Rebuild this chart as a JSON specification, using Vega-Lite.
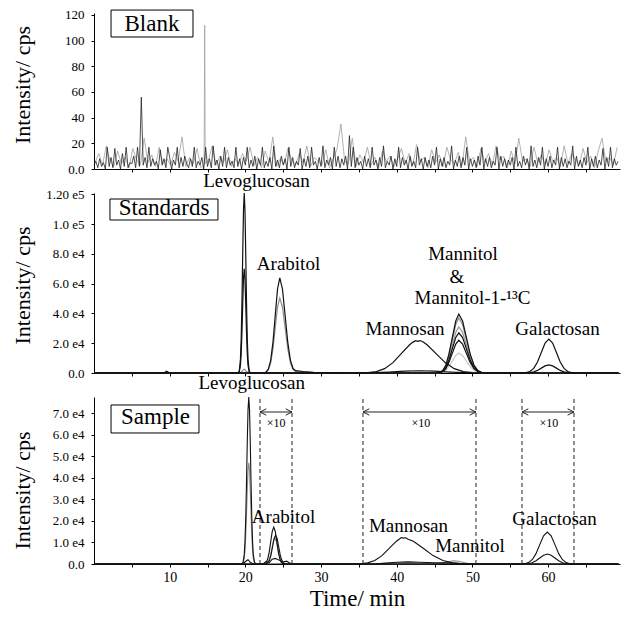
{
"$schema":"https://vega.github.io/schema/vega-lite/v6.json",
"background":"white",
"padding":{"left":10,"top":8,"right":5,"bottom":5},
"spacing":24,
"bounds":"flush",
"resolve":{"scale":{"color":"independent"}},
"config":{"view":{"stroke":null},"font":"Liberation Serif",
"axis":{"grid":false,"domainColor":"#000","tickColor":"#000","labelColor":"#000","titleColor":"#000","labelFont":"Liberation Serif","titleFont":"Liberation Serif","titleFontWeight":"normal","tickSize":3,"domainWidth":1,"tickWidth":1,"labelOverlap":false},
"text":{"font":"Liberation Serif","color":"#000"}},
"datasets":{
"blank":[
{"s":"bg","t":0.125,"v":5},{"s":"bg","t":0.625,"v":12},{"s":"bg","t":1.125,"v":3},{"s":"bg","t":1.625,"v":18},{"s":"bg","t":2.125,"v":6},{"s":"bg","t":2.625,"v":2},{"s":"bg","t":3.125,"v":14},{"s":"bg","t":3.625,"v":4},{"s":"bg","t":4.125,"v":9},{"s":"bg","t":4.625,"v":1},{"s":"bg","t":5.125,"v":16},{"s":"bg","t":5.625,"v":7},{"s":"bg","t":6.125,"v":3},{"s":"bg","t":6.625,"v":24},{"s":"bg","t":7.125,"v":5},{"s":"bg","t":7.625,"v":11},{"s":"bg","t":8.125,"v":2},{"s":"bg","t":8.625,"v":17},{"s":"bg","t":9.125,"v":4},{"s":"bg","t":9.625,"v":8},
{"s":"bg","t":10.125,"v":3},{"s":"bg","t":10.625,"v":13},{"s":"bg","t":11.125,"v":6},{"s":"bg","t":11.625,"v":25},{"s":"bg","t":12.125,"v":2},{"s":"bg","t":12.625,"v":9},{"s":"bg","t":13.125,"v":4},{"s":"bg","t":13.625,"v":16},{"s":"bg","t":14.125,"v":1},{"s":"bg","t":14.55,"v":3},{"s":"bg","t":14.625,"v":112},{"s":"bg","t":14.7,"v":4},{"s":"bg","t":15.125,"v":7},{"s":"bg","t":15.625,"v":18},{"s":"bg","t":16.125,"v":3},{"s":"bg","t":16.625,"v":10},{"s":"bg","t":17.125,"v":5},{"s":"bg","t":17.625,"v":15},{"s":"bg","t":18.125,"v":2},{"s":"bg","t":18.625,"v":8},{"s":"bg","t":19.125,"v":4},{"s":"bg","t":19.625,"v":12},
{"s":"bg","t":20.125,"v":6},{"s":"bg","t":20.625,"v":17},{"s":"bg","t":21.125,"v":3},{"s":"bg","t":21.625,"v":9},{"s":"bg","t":22.125,"v":1},{"s":"bg","t":22.625,"v":14},{"s":"bg","t":23.125,"v":5},{"s":"bg","t":23.625,"v":25},{"s":"bg","t":24.125,"v":2},{"s":"bg","t":24.625,"v":8},{"s":"bg","t":25.125,"v":4},{"s":"bg","t":25.625,"v":16},{"s":"bg","t":26.125,"v":7},{"s":"bg","t":26.625,"v":3},{"s":"bg","t":27.125,"v":12},{"s":"bg","t":27.625,"v":5},{"s":"bg","t":28.125,"v":18},{"s":"bg","t":28.625,"v":2},{"s":"bg","t":29.125,"v":9},{"s":"bg","t":29.625,"v":6},
{"s":"bg","t":30.125,"v":3},{"s":"bg","t":30.625,"v":15},{"s":"bg","t":31.125,"v":1},{"s":"bg","t":31.625,"v":8},{"s":"bg","t":32.125,"v":16},{"s":"bg","t":32.625,"v":35},{"s":"bg","t":33.125,"v":6},{"s":"bg","t":33.625,"v":4},{"s":"bg","t":34.125,"v":24},{"s":"bg","t":34.625,"v":2},{"s":"bg","t":35.125,"v":11},{"s":"bg","t":35.625,"v":5},{"s":"bg","t":36.125,"v":17},{"s":"bg","t":36.625,"v":3},{"s":"bg","t":37.125,"v":9},{"s":"bg","t":37.625,"v":1},{"s":"bg","t":38.125,"v":14},{"s":"bg","t":38.625,"v":6},{"s":"bg","t":39.125,"v":10},{"s":"bg","t":39.625,"v":2},
{"s":"bg","t":40.125,"v":8},{"s":"bg","t":40.625,"v":16},{"s":"bg","t":41.125,"v":4},{"s":"bg","t":41.625,"v":12},{"s":"bg","t":42.125,"v":3},{"s":"bg","t":42.625,"v":19},{"s":"bg","t":43.125,"v":6},{"s":"bg","t":43.625,"v":9},{"s":"bg","t":44.125,"v":1},{"s":"bg","t":44.625,"v":15},{"s":"bg","t":45.125,"v":5},{"s":"bg","t":45.625,"v":11},{"s":"bg","t":46.125,"v":2},{"s":"bg","t":46.625,"v":17},{"s":"bg","t":47.125,"v":7},{"s":"bg","t":47.625,"v":4},{"s":"bg","t":48.125,"v":13},{"s":"bg","t":48.625,"v":3},{"s":"bg","t":49.125,"v":25},{"s":"bg","t":49.625,"v":6},
{"s":"bg","t":50.125,"v":9},{"s":"bg","t":50.625,"v":2},{"s":"bg","t":51.125,"v":16},{"s":"bg","t":51.625,"v":5},{"s":"bg","t":52.125,"v":12},{"s":"bg","t":52.625,"v":3},{"s":"bg","t":53.125,"v":18},{"s":"bg","t":53.625,"v":7},{"s":"bg","t":54.125,"v":10},{"s":"bg","t":54.625,"v":1},{"s":"bg","t":55.125,"v":14},{"s":"bg","t":55.625,"v":4},{"s":"bg","t":56.125,"v":24},{"s":"bg","t":56.625,"v":6},{"s":"bg","t":57.125,"v":8},{"s":"bg","t":57.625,"v":2},{"s":"bg","t":58.125,"v":17},{"s":"bg","t":58.625,"v":5},{"s":"bg","t":59.125,"v":11},{"s":"bg","t":59.625,"v":3},
{"s":"bg","t":60.125,"v":15},{"s":"bg","t":60.625,"v":6},{"s":"bg","t":61.125,"v":9},{"s":"bg","t":61.625,"v":2},{"s":"bg","t":62.125,"v":18},{"s":"bg","t":62.625,"v":4},{"s":"bg","t":63.125,"v":12},{"s":"bg","t":63.625,"v":7},{"s":"bg","t":64.125,"v":3},{"s":"bg","t":64.625,"v":16},{"s":"bg","t":65.125,"v":5},{"s":"bg","t":65.625,"v":10},{"s":"bg","t":66.125,"v":1},{"s":"bg","t":66.625,"v":14},{"s":"bg","t":67.125,"v":24},{"s":"bg","t":67.625,"v":6},{"s":"bg","t":68.125,"v":9},{"s":"bg","t":68.625,"v":3},{"s":"bg","t":69.125,"v":17},
{"s":"bb","t":0,"v":3},{"s":"bb","t":0.25,"v":6},{"s":"bb","t":0.5,"v":1},{"s":"bb","t":0.75,"v":8},{"s":"bb","t":1,"v":2},{"s":"bb","t":1.25,"v":5},{"s":"bb","t":1.5,"v":0},{"s":"bb","t":1.75,"v":17},{"s":"bb","t":2,"v":2},{"s":"bb","t":2.25,"v":9},{"s":"bb","t":2.5,"v":1},{"s":"bb","t":2.75,"v":16},{"s":"bb","t":3,"v":3},{"s":"bb","t":3.25,"v":7},{"s":"bb","t":3.5,"v":0},{"s":"bb","t":3.75,"v":12},{"s":"bb","t":4,"v":2},{"s":"bb","t":4.25,"v":17},{"s":"bb","t":4.5,"v":1},{"s":"bb","t":4.75,"v":5},
{"s":"bb","t":5,"v":4},{"s":"bb","t":5.25,"v":10},{"s":"bb","t":5.5,"v":1},{"s":"bb","t":5.75,"v":17},{"s":"bb","t":6,"v":2},{"s":"bb","t":6.25,"v":56},{"s":"bb","t":6.5,"v":3},{"s":"bb","t":6.75,"v":9},{"s":"bb","t":7,"v":1},{"s":"bb","t":7.25,"v":17},{"s":"bb","t":7.5,"v":2},{"s":"bb","t":7.75,"v":8},{"s":"bb","t":8,"v":3},{"s":"bb","t":8.25,"v":6},{"s":"bb","t":8.5,"v":0},{"s":"bb","t":8.75,"v":15},{"s":"bb","t":9,"v":3},{"s":"bb","t":9.25,"v":8},{"s":"bb","t":9.5,"v":1},{"s":"bb","t":9.75,"v":17},
{"s":"bb","t":10,"v":9},{"s":"bb","t":10.25,"v":0},{"s":"bb","t":10.5,"v":7},{"s":"bb","t":10.75,"v":3},{"s":"bb","t":11,"v":17},{"s":"bb","t":11.25,"v":1},{"s":"bb","t":11.5,"v":9},{"s":"bb","t":11.75,"v":2},{"s":"bb","t":12,"v":10},{"s":"bb","t":12.25,"v":4},{"s":"bb","t":12.5,"v":1},{"s":"bb","t":12.75,"v":8},{"s":"bb","t":13,"v":2},{"s":"bb","t":13.25,"v":17},{"s":"bb","t":13.5,"v":1},{"s":"bb","t":13.75,"v":6},{"s":"bb","t":14,"v":3},{"s":"bb","t":14.25,"v":9},{"s":"bb","t":14.5,"v":0},{"s":"bb","t":14.75,"v":17},
{"s":"bb","t":15,"v":2},{"s":"bb","t":15.25,"v":8},{"s":"bb","t":15.5,"v":1},{"s":"bb","t":15.75,"v":18},{"s":"bb","t":16,"v":3},{"s":"bb","t":16.25,"v":7},{"s":"bb","t":16.5,"v":0},{"s":"bb","t":16.75,"v":10},{"s":"bb","t":17,"v":2},{"s":"bb","t":17.25,"v":17},{"s":"bb","t":17.5,"v":1},{"s":"bb","t":17.75,"v":9},{"s":"bb","t":18,"v":3},{"s":"bb","t":18.25,"v":6},{"s":"bb","t":18.5,"v":1},{"s":"bb","t":18.75,"v":17},{"s":"bb","t":19,"v":2},{"s":"bb","t":19.25,"v":8},{"s":"bb","t":19.5,"v":0},{"s":"bb","t":19.75,"v":9},
{"s":"bb","t":20,"v":3},{"s":"bb","t":20.25,"v":17},{"s":"bb","t":20.5,"v":1},{"s":"bb","t":20.75,"v":7},{"s":"bb","t":21,"v":2},{"s":"bb","t":21.25,"v":10},{"s":"bb","t":21.5,"v":0},{"s":"bb","t":21.75,"v":8},{"s":"bb","t":22,"v":3},{"s":"bb","t":22.25,"v":17},{"s":"bb","t":22.5,"v":1},{"s":"bb","t":22.75,"v":6},{"s":"bb","t":23,"v":2},{"s":"bb","t":23.25,"v":9},{"s":"bb","t":23.5,"v":0},{"s":"bb","t":23.75,"v":18},{"s":"bb","t":24,"v":2},{"s":"bb","t":24.25,"v":7},{"s":"bb","t":24.5,"v":1},{"s":"bb","t":24.75,"v":10},
{"s":"bb","t":25,"v":3},{"s":"bb","t":25.25,"v":8},{"s":"bb","t":25.5,"v":0},{"s":"bb","t":25.75,"v":17},{"s":"bb","t":26,"v":2},{"s":"bb","t":26.25,"v":9},{"s":"bb","t":26.5,"v":1},{"s":"bb","t":26.75,"v":6},{"s":"bb","t":27,"v":3},{"s":"bb","t":27.25,"v":16},{"s":"bb","t":27.5,"v":0},{"s":"bb","t":27.75,"v":8},{"s":"bb","t":28,"v":2},{"s":"bb","t":28.25,"v":10},{"s":"bb","t":28.5,"v":1},{"s":"bb","t":28.75,"v":17},{"s":"bb","t":29,"v":3},{"s":"bb","t":29.25,"v":6},{"s":"bb","t":29.5,"v":0},{"s":"bb","t":29.75,"v":9},
{"s":"bb","t":30,"v":2},{"s":"bb","t":30.25,"v":18},{"s":"bb","t":30.5,"v":1},{"s":"bb","t":30.75,"v":7},{"s":"bb","t":31,"v":3},{"s":"bb","t":31.25,"v":9},{"s":"bb","t":31.5,"v":0},{"s":"bb","t":31.75,"v":17},{"s":"bb","t":32,"v":2},{"s":"bb","t":32.25,"v":10},{"s":"bb","t":32.5,"v":1},{"s":"bb","t":32.75,"v":8},{"s":"bb","t":33,"v":3},{"s":"bb","t":33.25,"v":10},{"s":"bb","t":33.5,"v":0},{"s":"bb","t":33.75,"v":26},{"s":"bb","t":34,"v":2},{"s":"bb","t":34.25,"v":17},{"s":"bb","t":34.5,"v":1},{"s":"bb","t":34.75,"v":9},
{"s":"bb","t":35,"v":3},{"s":"bb","t":35.25,"v":6},{"s":"bb","t":35.5,"v":0},{"s":"bb","t":35.75,"v":10},{"s":"bb","t":36,"v":2},{"s":"bb","t":36.25,"v":8},{"s":"bb","t":36.5,"v":1},{"s":"bb","t":36.75,"v":17},{"s":"bb","t":37,"v":3},{"s":"bb","t":37.25,"v":7},{"s":"bb","t":37.5,"v":0},{"s":"bb","t":37.75,"v":9},{"s":"bb","t":38,"v":2},{"s":"bb","t":38.25,"v":18},{"s":"bb","t":38.5,"v":1},{"s":"bb","t":38.75,"v":6},{"s":"bb","t":39,"v":3},{"s":"bb","t":39.25,"v":10},{"s":"bb","t":39.5,"v":0},{"s":"bb","t":39.75,"v":8},
{"s":"bb","t":40,"v":2},{"s":"bb","t":40.25,"v":17},{"s":"bb","t":40.5,"v":1},{"s":"bb","t":40.75,"v":9},{"s":"bb","t":41,"v":3},{"s":"bb","t":41.25,"v":7},{"s":"bb","t":41.5,"v":0},{"s":"bb","t":41.75,"v":10},{"s":"bb","t":42,"v":2},{"s":"bb","t":42.25,"v":6},{"s":"bb","t":42.5,"v":1},{"s":"bb","t":42.75,"v":17},{"s":"bb","t":43,"v":3},{"s":"bb","t":43.25,"v":8},{"s":"bb","t":43.5,"v":0},{"s":"bb","t":43.75,"v":9},{"s":"bb","t":44,"v":2},{"s":"bb","t":44.25,"v":7},{"s":"bb","t":44.5,"v":1},{"s":"bb","t":44.75,"v":10},
{"s":"bb","t":45,"v":3},{"s":"bb","t":45.25,"v":17},{"s":"bb","t":45.5,"v":0},{"s":"bb","t":45.75,"v":8},{"s":"bb","t":46,"v":2},{"s":"bb","t":46.25,"v":9},{"s":"bb","t":46.5,"v":1},{"s":"bb","t":46.75,"v":6},{"s":"bb","t":47,"v":3},{"s":"bb","t":47.25,"v":18},{"s":"bb","t":47.5,"v":0},{"s":"bb","t":47.75,"v":7},{"s":"bb","t":48,"v":2},{"s":"bb","t":48.25,"v":10},{"s":"bb","t":48.5,"v":1},{"s":"bb","t":48.75,"v":9},{"s":"bb","t":49,"v":3},{"s":"bb","t":49.25,"v":17},{"s":"bb","t":49.5,"v":0},{"s":"bb","t":49.75,"v":8},
{"s":"bb","t":50,"v":2},{"s":"bb","t":50.25,"v":7},{"s":"bb","t":50.5,"v":1},{"s":"bb","t":50.75,"v":10},{"s":"bb","t":51,"v":3},{"s":"bb","t":51.25,"v":17},{"s":"bb","t":51.5,"v":0},{"s":"bb","t":51.75,"v":8},{"s":"bb","t":52,"v":2},{"s":"bb","t":52.25,"v":9},{"s":"bb","t":52.5,"v":1},{"s":"bb","t":52.75,"v":6},{"s":"bb","t":53,"v":3},{"s":"bb","t":53.25,"v":17},{"s":"bb","t":53.5,"v":0},{"s":"bb","t":53.75,"v":10},{"s":"bb","t":54,"v":2},{"s":"bb","t":54.25,"v":8},{"s":"bb","t":54.5,"v":1},{"s":"bb","t":54.75,"v":7},
{"s":"bb","t":55,"v":3},{"s":"bb","t":55.25,"v":9},{"s":"bb","t":55.5,"v":0},{"s":"bb","t":55.75,"v":17},{"s":"bb","t":56,"v":2},{"s":"bb","t":56.25,"v":6},{"s":"bb","t":56.5,"v":1},{"s":"bb","t":56.75,"v":10},{"s":"bb","t":57,"v":3},{"s":"bb","t":57.25,"v":8},{"s":"bb","t":57.5,"v":0},{"s":"bb","t":57.75,"v":18},{"s":"bb","t":58,"v":2},{"s":"bb","t":58.25,"v":7},{"s":"bb","t":58.5,"v":1},{"s":"bb","t":58.75,"v":9},{"s":"bb","t":59,"v":3},{"s":"bb","t":59.25,"v":17},{"s":"bb","t":59.5,"v":0},{"s":"bb","t":59.75,"v":8},
{"s":"bb","t":60,"v":2},{"s":"bb","t":60.25,"v":10},{"s":"bb","t":60.5,"v":1},{"s":"bb","t":60.75,"v":7},{"s":"bb","t":61,"v":3},{"s":"bb","t":61.25,"v":17},{"s":"bb","t":61.5,"v":0},{"s":"bb","t":61.75,"v":9},{"s":"bb","t":62,"v":2},{"s":"bb","t":62.25,"v":8},{"s":"bb","t":62.5,"v":1},{"s":"bb","t":62.75,"v":6},{"s":"bb","t":63,"v":3},{"s":"bb","t":63.25,"v":18},{"s":"bb","t":63.5,"v":0},{"s":"bb","t":63.75,"v":10},{"s":"bb","t":64,"v":2},{"s":"bb","t":64.25,"v":7},{"s":"bb","t":64.5,"v":1},{"s":"bb","t":64.75,"v":9},
{"s":"bb","t":65,"v":3},{"s":"bb","t":65.25,"v":17},{"s":"bb","t":65.5,"v":0},{"s":"bb","t":65.75,"v":8},{"s":"bb","t":66,"v":2},{"s":"bb","t":66.25,"v":10},{"s":"bb","t":66.5,"v":1},{"s":"bb","t":66.75,"v":7},{"s":"bb","t":67,"v":3},{"s":"bb","t":67.25,"v":16},{"s":"bb","t":67.5,"v":0},{"s":"bb","t":67.75,"v":9},{"s":"bb","t":68,"v":2},{"s":"bb","t":68.25,"v":17},{"s":"bb","t":68.5,"v":1},{"s":"bb","t":68.75,"v":8},{"s":"bb","t":69,"v":3},{"s":"bb","t":69.25,"v":6}
],
"std":[
{"s":"sg3","t":0,"v":0},{"s":"sg3","t":45.2,"v":0},{"s":"sg3","t":45.65,"v":150},{"s":"sg3","t":46.1,"v":590},{"s":"sg3","t":46.5,"v":1810},{"s":"sg3","t":46.9,"v":4350},{"s":"sg3","t":47.35,"v":8130},{"s":"sg3","t":47.8,"v":11830},{"s":"sg3","t":48.2,"v":13400},{"s":"sg3","t":48.7,"v":11830},{"s":"sg3","t":49.2,"v":8130},{"s":"sg3","t":49.7,"v":4350},{"s":"sg3","t":50.2,"v":1810},{"s":"sg3","t":50.7,"v":590},{"s":"sg3","t":51.2,"v":150},{"s":"sg3","t":52,"v":0},{"s":"sg3","t":69.3,"v":0},
{"s":"sg2","t":0,"v":0},{"s":"sg2","t":45.2,"v":0},{"s":"sg2","t":45.65,"v":340},{"s":"sg2","t":46.1,"v":1360},{"s":"sg2","t":46.5,"v":4190},{"s":"sg2","t":46.9,"v":10070},{"s":"sg2","t":47.35,"v":18800},{"s":"sg2","t":47.8,"v":27360},{"s":"sg2","t":48.2,"v":31000},{"s":"sg2","t":48.7,"v":27360},{"s":"sg2","t":49.2,"v":18800},{"s":"sg2","t":49.7,"v":10070},{"s":"sg2","t":50.2,"v":4190},{"s":"sg2","t":50.7,"v":1360},{"s":"sg2","t":51.2,"v":340},{"s":"sg2","t":52,"v":0},{"s":"sg2","t":69.3,"v":0},
{"s":"sg1","t":0,"v":0},{"s":"sg1","t":19.05,"v":0},{"s":"sg1","t":19.35,"v":190},{"s":"sg1","t":19.55,"v":990},{"s":"sg1","t":19.75,"v":2260},{"s":"sg1","t":19.85,"v":2500},{"s":"sg1","t":19.95,"v":2260},{"s":"sg1","t":20.15,"v":990},{"s":"sg1","t":20.35,"v":190},{"s":"sg1","t":20.65,"v":0},{"s":"sg1","t":22.45,"v":0},{"s":"sg1","t":22.75,"v":560},{"s":"sg1","t":23.05,"v":2210},{"s":"sg1","t":23.35,"v":6810},{"s":"sg1","t":23.65,"v":16330},{"s":"sg1","t":23.95,"v":30510},{"s":"sg1","t":24.25,"v":44390},{"s":"sg1","t":24.55,"v":50300},{"s":"sg1","t":24.9,"v":44390},{"s":"sg1","t":25.25,"v":30510},{"s":"sg1","t":25.6,"v":16330},{"s":"sg1","t":25.95,"v":6810},{"s":"sg1","t":26.3,"v":2210},{"s":"sg1","t":26.65,"v":900},{"s":"sg1","t":27.65,"v":600},{"s":"sg1","t":29,"v":300},{"s":"sg1","t":31,"v":0},{"s":"sg1","t":45.2,"v":0},{"s":"sg1","t":45.65,"v":410},{"s":"sg1","t":46.1,"v":1620},{"s":"sg1","t":46.5,"v":5010},{"s":"sg1","t":46.9,"v":12010},{"s":"sg1","t":47.35,"v":22440},{"s":"sg1","t":47.8,"v":32650},{"s":"sg1","t":48.2,"v":37000},{"s":"sg1","t":48.7,"v":32650},{"s":"sg1","t":49.2,"v":22440},{"s":"sg1","t":49.7,"v":12010},{"s":"sg1","t":50.2,"v":5010},{"s":"sg1","t":50.7,"v":1620},{"s":"sg1","t":51.2,"v":410},{"s":"sg1","t":52,"v":0},{"s":"sg1","t":69.3,"v":0},
{"s":"sb5","t":0,"v":0},{"s":"sb5","t":45.2,"v":0},{"s":"sb5","t":45.65,"v":240},{"s":"sb5","t":46.1,"v":970},{"s":"sb5","t":46.5,"v":2980},{"s":"sb5","t":46.9,"v":7140},{"s":"sb5","t":47.35,"v":13340},{"s":"sb5","t":47.8,"v":19420},{"s":"sb5","t":48.2,"v":22000},{"s":"sb5","t":48.7,"v":19420},{"s":"sb5","t":49.2,"v":13340},{"s":"sb5","t":49.7,"v":7140},{"s":"sb5","t":50.2,"v":2980},{"s":"sb5","t":50.7,"v":970},{"s":"sb5","t":51.2,"v":240},{"s":"sb5","t":52,"v":0},{"s":"sb5","t":69.3,"v":0},
{"s":"sb4","t":0,"v":0},{"s":"sb4","t":45.2,"v":0},{"s":"sb4","t":45.65,"v":440},{"s":"sb4","t":46.1,"v":1740},{"s":"sb4","t":46.5,"v":5360},{"s":"sb4","t":46.9,"v":12860},{"s":"sb4","t":47.35,"v":24020},{"s":"sb4","t":47.8,"v":34950},{"s":"sb4","t":48.2,"v":39600},{"s":"sb4","t":48.7,"v":34950},{"s":"sb4","t":49.2,"v":24020},{"s":"sb4","t":49.7,"v":12860},{"s":"sb4","t":50.2,"v":5360},{"s":"sb4","t":50.7,"v":1740},{"s":"sb4","t":51.2,"v":440},{"s":"sb4","t":52,"v":0},{"s":"sb4","t":69.3,"v":0},
{"s":"sb3","t":0,"v":0},{"s":"sb3","t":22.45,"v":0},{"s":"sb3","t":22.75,"v":710},{"s":"sb3","t":23.05,"v":2810},{"s":"sb3","t":23.35,"v":8660},{"s":"sb3","t":23.65,"v":20780},{"s":"sb3","t":23.95,"v":38820},{"s":"sb3","t":24.25,"v":56480},{"s":"sb3","t":24.55,"v":64000},{"s":"sb3","t":24.9,"v":56480},{"s":"sb3","t":25.25,"v":38820},{"s":"sb3","t":25.6,"v":20780},{"s":"sb3","t":25.95,"v":8660},{"s":"sb3","t":26.3,"v":3000},{"s":"sb3","t":26.65,"v":1600},{"s":"sb3","t":27.65,"v":1000},{"s":"sb3","t":29,"v":500},{"s":"sb3","t":31,"v":200},{"s":"sb3","t":33,"v":0},{"s":"sb3","t":45.2,"v":0},{"s":"sb3","t":45.65,"v":300},{"s":"sb3","t":46.1,"v":1190},{"s":"sb3","t":46.5,"v":3650},{"s":"sb3","t":46.9,"v":8770},{"s":"sb3","t":47.35,"v":16380},{"s":"sb3","t":47.8,"v":23830},{"s":"sb3","t":48.2,"v":27000},{"s":"sb3","t":48.7,"v":23830},{"s":"sb3","t":49.2,"v":16380},{"s":"sb3","t":49.7,"v":8770},{"s":"sb3","t":50.2,"v":3650},{"s":"sb3","t":50.7,"v":1190},{"s":"sb3","t":51.2,"v":300},{"s":"sb3","t":52,"v":0},{"s":"sb3","t":69.3,"v":0},
{"s":"sb2","t":0,"v":0},{"s":"sb2","t":18.9,"v":0},{"s":"sb2","t":19.05,"v":100},{"s":"sb2","t":19.2,"v":890},{"s":"sb2","t":19.35,"v":5290},{"s":"sb2","t":19.45,"v":13400},{"s":"sb2","t":19.55,"v":27650},{"s":"sb2","t":19.65,"v":46300},{"s":"sb2","t":19.75,"v":63100},{"s":"sb2","t":19.85,"v":70000},{"s":"sb2","t":19.95,"v":63100},{"s":"sb2","t":20.05,"v":46300},{"s":"sb2","t":20.15,"v":27650},{"s":"sb2","t":20.25,"v":13400},{"s":"sb2","t":20.35,"v":5290},{"s":"sb2","t":20.5,"v":890},{"s":"sb2","t":20.65,"v":100},{"s":"sb2","t":20.9,"v":0},{"s":"sb2","t":35,"v":0},{"s":"sb2","t":37,"v":200},{"s":"sb2","t":39,"v":620},{"s":"sb2","t":41,"v":1200},{"s":"sb2","t":43,"v":1500},{"s":"sb2","t":45,"v":1200},{"s":"sb2","t":47,"v":620},{"s":"sb2","t":49,"v":200},{"s":"sb2","t":51,"v":0},{"s":"sb2","t":56.5,"v":0},{"s":"sb2","t":57.1,"v":60},{"s":"sb2","t":57.6,"v":240},{"s":"sb2","t":58.1,"v":730},{"s":"sb2","t":58.6,"v":1750},{"s":"sb2","t":59.1,"v":3280},{"s":"sb2","t":59.6,"v":4770},{"s":"sb2","t":60.1,"v":5400},{"s":"sb2","t":60.6,"v":4770},{"s":"sb2","t":61.1,"v":3280},{"s":"sb2","t":61.6,"v":1750},{"s":"sb2","t":62.1,"v":730},{"s":"sb2","t":62.6,"v":240},{"s":"sb2","t":63.1,"v":60},{"s":"sb2","t":63.8,"v":0},{"s":"sb2","t":69.3,"v":0},
{"s":"sb1","t":0,"v":0},{"s":"sb1","t":9.2,"v":0},{"s":"sb1","t":9.6,"v":1200},{"s":"sb1","t":10,"v":0},{"s":"sb1","t":18.9,"v":0},{"s":"sb1","t":19.05,"v":170},{"s":"sb1","t":19.2,"v":1540},{"s":"sb1","t":19.35,"v":9150},{"s":"sb1","t":19.45,"v":23100},{"s":"sb1","t":19.55,"v":47800},{"s":"sb1","t":19.65,"v":80000},{"s":"sb1","t":19.75,"v":109100},{"s":"sb1","t":19.85,"v":121000},{"s":"sb1","t":19.95,"v":109100},{"s":"sb1","t":20.05,"v":80000},{"s":"sb1","t":20.15,"v":47800},{"s":"sb1","t":20.25,"v":23100},{"s":"sb1","t":20.35,"v":9150},{"s":"sb1","t":20.5,"v":1540},{"s":"sb1","t":20.65,"v":170},{"s":"sb1","t":20.9,"v":0},{"s":"sb1","t":35,"v":0},{"s":"sb1","t":36.2,"v":240},{"s":"sb1","t":37.3,"v":940},{"s":"sb1","t":38.4,"v":2910},{"s":"sb1","t":39.5,"v":6980},{"s":"sb1","t":40.6,"v":13040},{"s":"sb1","t":41.7,"v":18970},{"s":"sb1","t":42.1,"v":20600},{"s":"sb1","t":42.5,"v":21700},{"s":"sb1","t":42.8,"v":21300},{"s":"sb1","t":43.1,"v":21800},{"s":"sb1","t":43.5,"v":20800},{"s":"sb1","t":44,"v":18970},{"s":"sb1","t":45.2,"v":13040},{"s":"sb1","t":46.4,"v":6980},{"s":"sb1","t":47.6,"v":2910},{"s":"sb1","t":48.8,"v":940},{"s":"sb1","t":50,"v":240},{"s":"sb1","t":51.1,"v":50},{"s":"sb1","t":52,"v":0},{"s":"sb1","t":56.5,"v":0},{"s":"sb1","t":57.1,"v":250},{"s":"sb1","t":57.6,"v":1000},{"s":"sb1","t":58.1,"v":3080},{"s":"sb1","t":58.6,"v":7400},{"s":"sb1","t":59.1,"v":13830},{"s":"sb1","t":59.6,"v":20120},{"s":"sb1","t":60.1,"v":22800},{"s":"sb1","t":60.6,"v":20120},{"s":"sb1","t":61.1,"v":13830},{"s":"sb1","t":61.6,"v":7400},{"s":"sb1","t":62.1,"v":3080},{"s":"sb1","t":62.6,"v":1000},{"s":"sb1","t":63.1,"v":250},{"s":"sb1","t":63.8,"v":0},{"s":"sb1","t":69.3,"v":0}
],
"smp":[
{"s":"bg1","t":0,"v":0},{"s":"bg1","t":19.4,"v":0},{"s":"bg1","t":19.55,"v":70},{"s":"bg1","t":19.7,"v":520},{"s":"bg1","t":19.85,"v":2640},{"s":"bg1","t":19.95,"v":6340},{"s":"bg1","t":20.05,"v":13070},{"s":"bg1","t":20.15,"v":22890},{"s":"bg1","t":20.25,"v":34120},{"s":"bg1","t":20.35,"v":43380},{"s":"bg1","t":20.45,"v":47000},{"s":"bg1","t":20.55,"v":43380},{"s":"bg1","t":20.65,"v":34120},{"s":"bg1","t":20.75,"v":22890},{"s":"bg1","t":20.85,"v":13070},{"s":"bg1","t":20.95,"v":6340},{"s":"bg1","t":21.05,"v":2640},{"s":"bg1","t":21.2,"v":520},{"s":"bg1","t":21.35,"v":70},{"s":"bg1","t":21.55,"v":0},{"s":"bg1","t":22.55,"v":0},{"s":"bg1","t":22.7,"v":130},{"s":"bg1","t":22.9,"v":530},{"s":"bg1","t":23.1,"v":1620},{"s":"bg1","t":23.3,"v":3900},{"s":"bg1","t":23.5,"v":7280},{"s":"bg1","t":23.7,"v":10590},{"s":"bg1","t":23.9,"v":12000},{"s":"bg1","t":24.1,"v":10590},{"s":"bg1","t":24.3,"v":7280},{"s":"bg1","t":24.5,"v":3900},{"s":"bg1","t":24.7,"v":1620},{"s":"bg1","t":24.9,"v":530},{"s":"bg1","t":25.1,"v":130},{"s":"bg1","t":25.45,"v":0},{"s":"bg1","t":45.5,"v":0},{"s":"bg1","t":46.5,"v":800},{"s":"bg1","t":47.5,"v":1500},{"s":"bg1","t":48.2,"v":1300},{"s":"bg1","t":49,"v":600},{"s":"bg1","t":49.8,"v":0},{"s":"bg1","t":69.3,"v":0},
{"s":"bb4","t":0,"v":0},{"s":"bb4","t":19.65,"v":0},{"s":"bb4","t":20.15,"v":1500},{"s":"bb4","t":20.35,"v":2000},{"s":"bb4","t":20.65,"v":800},{"s":"bb4","t":21.05,"v":0},{"s":"bb4","t":22.35,"v":0},{"s":"bb4","t":22.75,"v":1200},{"s":"bb4","t":23.15,"v":600},{"s":"bb4","t":23.55,"v":2200},{"s":"bb4","t":23.95,"v":2600},{"s":"bb4","t":24.45,"v":1800},{"s":"bb4","t":24.95,"v":900},{"s":"bb4","t":25.45,"v":1300},{"s":"bb4","t":25.95,"v":300},{"s":"bb4","t":26.35,"v":0},{"s":"bb4","t":37,"v":0},{"s":"bb4","t":38.5,"v":400},{"s":"bb4","t":40,"v":800},{"s":"bb4","t":41.5,"v":1000},{"s":"bb4","t":43,"v":800},{"s":"bb4","t":45,"v":600},{"s":"bb4","t":47,"v":500},{"s":"bb4","t":48.5,"v":200},{"s":"bb4","t":49.5,"v":0},{"s":"bb4","t":56.5,"v":0},{"s":"bb4","t":56.9,"v":50},{"s":"bb4","t":57.4,"v":200},{"s":"bb4","t":57.9,"v":620},{"s":"bb4","t":58.4,"v":1490},{"s":"bb4","t":58.9,"v":2790},{"s":"bb4","t":59.4,"v":4060},{"s":"bb4","t":59.9,"v":4600},{"s":"bb4","t":60.4,"v":4060},{"s":"bb4","t":60.9,"v":2790},{"s":"bb4","t":61.4,"v":1490},{"s":"bb4","t":61.9,"v":620},{"s":"bb4","t":62.4,"v":200},{"s":"bb4","t":62.9,"v":50},{"s":"bb4","t":63.5,"v":0},{"s":"bb4","t":69.3,"v":0},
{"s":"bb3","t":0,"v":0},{"s":"bb3","t":22.65,"v":0},{"s":"bb3","t":22.8,"v":150},{"s":"bb3","t":23,"v":590},{"s":"bb3","t":23.2,"v":1810},{"s":"bb3","t":23.4,"v":4350},{"s":"bb3","t":23.6,"v":8130},{"s":"bb3","t":23.8,"v":11830},{"s":"bb3","t":24,"v":13400},{"s":"bb3","t":24.2,"v":11830},{"s":"bb3","t":24.4,"v":8130},{"s":"bb3","t":24.6,"v":4350},{"s":"bb3","t":24.8,"v":1810},{"s":"bb3","t":25,"v":590},{"s":"bb3","t":25.2,"v":150},{"s":"bb3","t":25.65,"v":0},{"s":"bb3","t":69.3,"v":0},
{"s":"bb2","t":0,"v":0},{"s":"bb2","t":22.35,"v":0},{"s":"bb2","t":22.55,"v":190},{"s":"bb2","t":22.75,"v":750},{"s":"bb2","t":22.95,"v":2310},{"s":"bb2","t":23.15,"v":5550},{"s":"bb2","t":23.35,"v":10370},{"s":"bb2","t":23.55,"v":15090},{"s":"bb2","t":23.75,"v":17100},{"s":"bb2","t":23.95,"v":15090},{"s":"bb2","t":24.15,"v":10370},{"s":"bb2","t":24.35,"v":5550},{"s":"bb2","t":24.55,"v":2310},{"s":"bb2","t":24.75,"v":750},{"s":"bb2","t":24.95,"v":190},{"s":"bb2","t":25.35,"v":0},{"s":"bb2","t":69.3,"v":0},
{"s":"bb1","t":0,"v":0},{"s":"bb1","t":19.4,"v":0},{"s":"bb1","t":19.55,"v":120},{"s":"bb1","t":19.7,"v":860},{"s":"bb1","t":19.85,"v":4350},{"s":"bb1","t":19.95,"v":10460},{"s":"bb1","t":20.05,"v":21550},{"s":"bb1","t":20.15,"v":37740},{"s":"bb1","t":20.25,"v":56270},{"s":"bb1","t":20.35,"v":71530},{"s":"bb1","t":20.45,"v":77500},{"s":"bb1","t":20.55,"v":71530},{"s":"bb1","t":20.65,"v":56270},{"s":"bb1","t":20.75,"v":37740},{"s":"bb1","t":20.85,"v":21550},{"s":"bb1","t":20.95,"v":10460},{"s":"bb1","t":21.05,"v":4350},{"s":"bb1","t":21.2,"v":860},{"s":"bb1","t":21.35,"v":120},{"s":"bb1","t":21.55,"v":0},{"s":"bb1","t":34.5,"v":0},{"s":"bb1","t":35.2,"v":130},{"s":"bb1","t":36.15,"v":530},{"s":"bb1","t":37.1,"v":1620},{"s":"bb1","t":38.05,"v":3900},{"s":"bb1","t":39,"v":7280},{"s":"bb1","t":39.95,"v":10590},{"s":"bb1","t":40.4,"v":11700},{"s":"bb1","t":40.6,"v":12300},{"s":"bb1","t":40.9,"v":12000},{"s":"bb1","t":41.2,"v":12200},{"s":"bb1","t":41.5,"v":11500},{"s":"bb1","t":42.2,"v":10590},{"s":"bb1","t":43.5,"v":7280},{"s":"bb1","t":44.8,"v":3900},{"s":"bb1","t":46.1,"v":1620},{"s":"bb1","t":47.4,"v":530},{"s":"bb1","t":48.7,"v":130},{"s":"bb1","t":50,"v":0},{"s":"bb1","t":56.3,"v":0},{"s":"bb1","t":56.9,"v":160},{"s":"bb1","t":57.4,"v":650},{"s":"bb1","t":57.9,"v":2000},{"s":"bb1","t":58.4,"v":4810},{"s":"bb1","t":58.9,"v":8980},{"s":"bb1","t":59.4,"v":13060},{"s":"bb1","t":59.9,"v":14800},{"s":"bb1","t":60.4,"v":13060},{"s":"bb1","t":60.9,"v":8980},{"s":"bb1","t":61.4,"v":4810},{"s":"bb1","t":61.9,"v":2000},{"s":"bb1","t":62.4,"v":650},{"s":"bb1","t":62.9,"v":160},{"s":"bb1","t":63.5,"v":0},{"s":"bb1","t":69.3,"v":0}
]
},
"vconcat":[
{
"width":526,"height":156,
"encoding":{
"x":{"field":"t","type":"quantitative","scale":{"domain":[0,69.5],"nice":false,"zero":false},"axis":{"values":[5,10,15,20,25,30,35,40,45,50,55,60,65],"labels":false,"title":null}},
"y":{"field":"v","type":"quantitative","scale":{"domain":[0,121.5],"nice":false},"axis":{"values":[0,20,40,60,80,100,120],"labelExpr":"datum.value == 0 ? '0.0' : datum.label","labelFontSize":13,"labelPadding":7,"title":"Intensity/ cps","titleFontSize":22,"titleX":-60,"titleY":71.5}}
},
"layer":[
{"data":{"name":"blank"},"mark":{"type":"line","strokeWidth":0.8},"encoding":{"color":{"field":"s","type":"nominal","scale":{"domain":["bg","bb"],"range":["#a0a0a0","#222222"]},"legend":null}}},
{"data":{"values":[{"t":2.25,"t2":13.08,"v":102.8,"v2":123.8}]},"mark":{"type":"rect","fill":"#ffffff","stroke":"#000000","strokeWidth":1},"encoding":{"x2":{"field":"t2"},"y2":{"field":"v2"}}},
{"data":{"values":[{"label":"Blank","t":7.66,"v":112.9}]},"mark":{"type":"text","fontSize":23,"baseline":"middle"},"encoding":{"text":{"field":"label"}}}
]
},
{
"width":526,"height":180,
"encoding":{
"x":{"field":"t","type":"quantitative","scale":{"domain":[0,69.5],"nice":false,"zero":false},"axis":{"values":[5,10,15,20,25,30,35,40,45,50,55,60,65],"labels":false,"title":null}},
"y":{"field":"v","type":"quantitative","scale":{"domain":[0,121000],"nice":false},"axis":{"values":[0,20000,40000,60000,80000,100000,120000],"labelExpr":"datum.value == 0 ? '0.0' : datum.value == 100000 ? '1.0 e5' : datum.value == 120000 ? '1.20 e5' : format(datum.value / 10000, '.1f') + ' e4'","labelFontSize":13,"labelPadding":7,"title":"Intensity/ cps","titleFontSize":22,"titleX":-60,"titleY":92}}
},
"layer":[
{"data":{"name":"std"},"mark":{"type":"line","strokeWidth":1.2},"encoding":{"color":{"field":"s","type":"nominal","scale":{"domain":["sg3","sg2","sg1","sb5","sb4","sb3","sb2","sb1"],"range":["#c8c8c8","#9a9a9a","#8c8c8c","#111111","#111111","#111111","#111111","#111111"]},"legend":null}}},
{"data":{"values":[{"t":2.11,"t2":16.38,"v":102850,"v2":116960}]},"mark":{"type":"rect","fill":"#ffffff","stroke":"#000000","strokeWidth":1},"encoding":{"x2":{"field":"t2"},"y2":{"field":"v2"}}},
{"data":{"values":[{"label":"Standards","t":9.25,"v":110700}]},"mark":{"type":"text","fontSize":23,"baseline":"middle"},"encoding":{"text":{"field":"label"}}},
{"data":{"values":[{"label":"Levoglucosan","t":21.47,"v":129060},{"label":"Arabitol","t":25.7,"v":73270},{"label":"Mannitol","t":48.76,"v":79990},{"label":"&","t":47.96,"v":64200},{"label":"Mannitol-1-¹³C","t":50.01,"v":50750},{"label":"Mannosan","t":41.09,"v":29580},{"label":"Galactosan","t":61.24,"v":29580}]},"mark":{"type":"text","fontSize":19,"baseline":"middle"},"encoding":{"text":{"field":"label"}}}
]
},
{
"width":526,"height":167,
"encoding":{
"x":{"field":"t","type":"quantitative","scale":{"domain":[0,69.5],"nice":false,"zero":false},"axis":{"values":[5,10,15,20,25,30,35,40,45,50,55,60,65],"labelExpr":"datum.value % 10 == 0 ? datum.label : ''","labelFontSize":14,"labelPadding":3,"title":"Time/ min","titleFontSize":23,"titlePadding":3}},
"y":{"field":"v","type":"quantitative","scale":{"domain":[0,77500],"nice":false},"axis":{"values":[0,10000,20000,30000,40000,50000,60000,70000],"labelExpr":"datum.value == 0 ? '0.0' : format(datum.value / 10000, '.1f') + ' e4'","labelFontSize":13,"labelPadding":7,"title":"Intensity/ cps","titleFontSize":22,"titleX":-60,"titleY":93}}
},
"layer":[
{"data":{"name":"smp"},"mark":{"type":"line","strokeWidth":1.1},"encoding":{"color":{"field":"s","type":"nominal","scale":{"domain":["bg1","bb4","bb3","bb2","bb1"],"range":["#8c8c8c","#111111","#111111","#111111","#111111"]},"legend":null}}},
{"data":{"values":[{"t":21.93,"v":0,"v2":77500},{"t":26.16,"v":0,"v2":77500},{"t":35.54,"v":0,"v2":77500},{"t":50.47,"v":0,"v2":77500},{"t":56.55,"v":0,"v2":77500},{"t":63.42,"v":0,"v2":77500}]},"mark":{"type":"rule","stroke":"#222222","strokeWidth":1,"strokeDash":[4,3]},"encoding":{"y2":{"field":"v2"}}},
{"data":{"values":[{"t":21.93,"t2":26.16,"v":70540},{"t":35.54,"t2":50.47,"v":70540},{"t":56.55,"t2":63.42,"v":70540}]},"mark":{"type":"rule","stroke":"#222222","strokeWidth":1},"encoding":{"x2":{"field":"t2"}}},
{"data":{"values":[{"t":21.93,"v":70540},{"t":35.54,"v":70540},{"t":56.55,"v":70540}]},"mark":{"type":"point","shape":"M2,-1L0,0L2,1","filled":false,"stroke":"#222222","strokeWidth":1,"size":40,"opacity":1}},
{"data":{"values":[{"t":26.16,"v":70540},{"t":50.47,"v":70540},{"t":63.42,"v":70540}]},"mark":{"type":"point","shape":"M-2,-1L0,0L-2,1","filled":false,"stroke":"#222222","strokeWidth":1,"size":40,"opacity":1}},
{"data":{"values":[{"label":"×10","t":24.05,"v":65430},{"label":"×10","t":43.2,"v":65430},{"label":"×10","t":60.1,"v":65430}]},"mark":{"type":"text","fontSize":12,"baseline":"middle"},"encoding":{"text":{"field":"label"}}},
{"data":{"values":[{"t":2.25,"t2":13.87,"v":60800,"v2":73790}]},"mark":{"type":"rect","fill":"#ffffff","stroke":"#000000","strokeWidth":1},"encoding":{"x2":{"field":"t2"},"y2":{"field":"v2"}}},
{"data":{"values":[{"label":"Sample","t":8.13,"v":68220}]},"mark":{"type":"text","fontSize":23,"baseline":"middle"},"encoding":{"text":{"field":"label"}}},
{"data":{"values":[{"label":"Levoglucosan","t":20.84,"v":84000},{"label":"Arabitol","t":25.04,"v":21580},{"label":"Mannosan","t":41.55,"v":17640},{"label":"Mannitol","t":49.68,"v":8350},{"label":"Galactosan","t":60.85,"v":20880}]},"mark":{"type":"text","fontSize":19,"baseline":"middle"},"encoding":{"text":{"field":"label"}}}
]
}
]
}
